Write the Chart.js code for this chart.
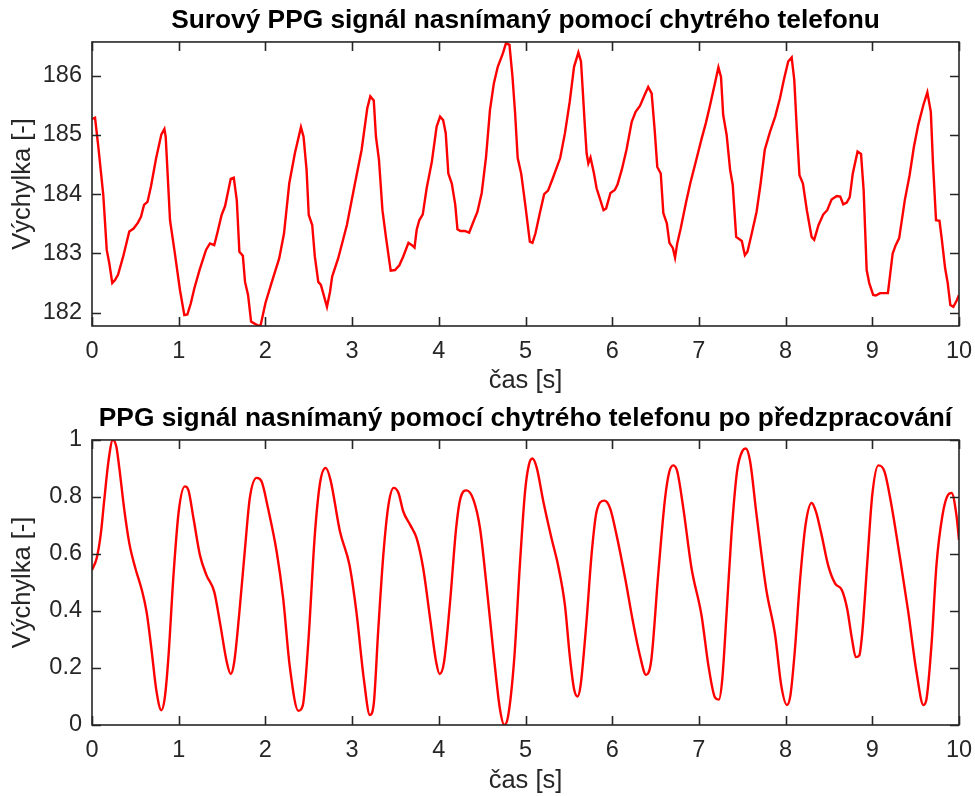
<!DOCTYPE html>
<html><head><meta charset="utf-8">
<script src="https://cdn.jsdelivr.net/npm/chart.js@4"></script>
<style>
html,body{margin:0;padding:0;background:#fff;overflow:hidden}
.wrap{position:absolute;left:0;width:975px;height:398px}
canvas{display:block}
</style></head><body>
<div class="wrap" style="top:0"><canvas id="c1" width="975" height="398"></canvas></div>
<div class="wrap" style="top:398px"><canvas id="c2" width="975" height="398"></canvas></div>
<script>
// ---- data ----
const rawTime = [0,0.035,0.073,0.13,0.17,0.20,0.234,0.265,0.30,0.36,0.43,0.48,0.53,0.565,0.60,0.64,0.68,0.74,0.80,0.835,0.85,0.90,0.95,1.015,1.065,1.10,1.14,1.18,1.24,1.315,1.36,1.41,1.445,1.495,1.535,1.60,1.635,1.67,1.70,1.74,1.765,1.80,1.835,1.87,1.92,1.945,2.00,2.07,2.16,2.215,2.275,2.34,2.41,2.44,2.475,2.50,2.54,2.57,2.61,2.64,2.71,2.745,2.77,2.84,2.94,3.03,3.11,3.175,3.21,3.25,3.275,3.31,3.35,3.39,3.445,3.495,3.545,3.59,3.65,3.69,3.72,3.745,3.775,3.815,3.86,3.92,3.975,4.015,4.05,4.08,4.11,4.15,4.19,4.215,4.25,4.30,4.35,4.40,4.445,4.495,4.545,4.59,4.635,4.68,4.74,4.775,4.815,4.85,4.88,4.91,4.95,4.995,5.05,5.08,5.115,5.165,5.215,5.26,5.315,5.40,5.455,5.51,5.56,5.61,5.64,5.66,5.685,5.705,5.725,5.75,5.79,5.82,5.90,5.93,5.98,6.03,6.06,6.11,6.165,6.225,6.27,6.32,6.37,6.415,6.455,6.49,6.52,6.56,6.59,6.63,6.66,6.70,6.725,6.75,6.79,6.85,6.90,6.975,7.03,7.08,7.13,7.18,7.225,7.255,7.28,7.32,7.36,7.39,7.43,7.495,7.53,7.56,7.61,7.665,7.71,7.76,7.82,7.88,7.935,7.98,8.03,8.07,8.10,8.13,8.16,8.20,8.245,8.30,8.33,8.38,8.435,8.48,8.53,8.59,8.63,8.665,8.705,8.74,8.775,8.83,8.87,8.90,8.935,8.965,9.01,9.04,9.09,9.18,9.235,9.27,9.31,9.375,9.43,9.48,9.53,9.59,9.635,9.675,9.70,9.735,9.775,9.80,9.84,9.87,9.90,9.935,9.975,10.0];
const rawValue = [185.27,185.29,184.80,183.99,183.06,182.83,182.50,182.55,182.64,182.95,183.37,183.42,183.52,183.62,183.82,183.87,184.13,184.61,185.01,185.10,184.97,183.56,183.06,182.38,181.96,181.97,182.16,182.41,182.72,183.06,183.17,183.14,183.34,183.65,183.80,184.26,184.28,183.90,183.03,182.96,182.52,182.30,181.85,181.82,181.78,181.79,182.16,182.50,182.92,183.34,184.18,184.69,185.13,184.97,184.41,183.65,183.48,182.95,182.52,182.47,182.10,182.35,182.61,182.92,183.48,184.16,184.75,185.45,185.65,185.58,184.97,184.58,183.73,183.28,182.71,182.72,182.80,182.95,183.18,183.14,183.10,183.40,183.56,183.66,184.10,184.55,185.14,185.31,185.25,185.03,184.35,184.18,183.82,183.41,183.38,183.38,183.35,183.54,183.70,184.02,184.63,185.42,185.87,186.15,186.38,186.55,186.52,185.98,185.37,184.61,184.35,183.85,183.20,183.18,183.34,183.68,184.00,184.06,184.27,184.61,185.03,185.56,186.15,186.39,186.24,185.76,185.14,184.69,184.52,184.62,184.35,184.10,183.73,183.76,184.02,184.07,184.16,184.41,184.75,185.22,185.39,185.49,185.66,185.81,185.70,185.08,184.46,184.35,183.68,183.51,183.18,183.09,182.93,183.17,183.42,183.85,184.18,184.61,184.93,185.20,185.51,185.84,186.14,185.98,185.34,185.00,184.41,184.16,183.28,183.21,182.97,183.03,183.34,183.70,184.16,184.75,185.05,185.31,185.62,185.93,186.24,186.31,185.93,185.08,184.32,184.18,183.73,183.28,183.23,183.48,183.66,183.73,183.91,183.97,183.96,183.83,183.86,183.95,184.35,184.72,184.68,184.07,182.72,182.50,182.30,182.29,182.33,182.33,183.00,183.14,183.26,183.90,184.32,184.80,185.17,185.51,185.72,185.39,184.52,183.56,183.55,183.26,182.75,182.50,182.13,182.10,182.21,182.30];

const procTime = [0,0.054,0.10,0.14,0.19,0.24,0.28,0.315,0.37,0.43,0.50,0.57,0.63,0.69,0.74,0.80,0.84,0.88,0.94,1.0,1.07,1.11,1.17,1.245,1.32,1.41,1.475,1.555,1.60,1.64,1.70,1.765,1.82,1.90,1.955,2.03,2.13,2.205,2.28,2.38,2.43,2.495,2.57,2.63,2.695,2.75,2.86,2.97,3.05,3.135,3.205,3.25,3.30,3.36,3.42,3.48,3.535,3.59,3.67,3.745,3.82,3.90,3.97,4.01,4.06,4.13,4.20,4.25,4.32,4.40,4.475,4.55,4.63,4.705,4.755,4.80,4.87,4.935,4.995,5.04,5.08,5.13,5.205,5.30,5.375,5.455,5.51,5.56,5.60,5.635,5.70,5.765,5.82,5.91,5.975,6.05,6.15,6.24,6.32,6.39,6.45,6.53,6.61,6.66,6.705,6.75,6.82,6.915,7.03,7.11,7.185,7.23,7.27,7.32,7.375,7.44,7.505,7.54,7.59,7.665,7.775,7.88,7.95,8.015,8.055,8.105,8.165,8.23,8.30,8.35,8.415,8.49,8.57,8.65,8.71,8.765,8.81,8.85,8.885,8.94,9.0,9.07,9.14,9.22,9.32,9.415,9.51,9.59,9.625,9.685,9.74,9.81,9.875,9.915,9.97,10.0];
const procValue = [0.544,0.585,0.667,0.785,0.926,1.0,0.978,0.902,0.761,0.638,0.55,0.479,0.396,0.255,0.126,0.052,0.097,0.232,0.526,0.749,0.837,0.826,0.726,0.596,0.526,0.467,0.361,0.22,0.179,0.22,0.396,0.62,0.796,0.867,0.855,0.761,0.608,0.444,0.208,0.05,0.067,0.291,0.667,0.849,0.902,0.861,0.679,0.561,0.396,0.162,0.035,0.075,0.326,0.596,0.773,0.832,0.814,0.749,0.702,0.655,0.55,0.373,0.22,0.179,0.22,0.432,0.691,0.796,0.823,0.79,0.691,0.491,0.255,0.056,0.0,0.032,0.232,0.561,0.82,0.914,0.935,0.902,0.785,0.655,0.561,0.42,0.244,0.126,0.10,0.138,0.35,0.608,0.749,0.787,0.761,0.667,0.514,0.361,0.244,0.176,0.226,0.526,0.796,0.89,0.911,0.89,0.761,0.55,0.385,0.208,0.097,0.089,0.162,0.396,0.667,0.89,0.963,0.97,0.926,0.737,0.479,0.314,0.138,0.07,0.103,0.255,0.502,0.702,0.779,0.749,0.667,0.561,0.497,0.473,0.408,0.303,0.238,0.244,0.326,0.561,0.808,0.911,0.89,0.773,0.585,0.396,0.185,0.07,0.091,0.291,0.561,0.737,0.808,0.814,0.737,0.649];

const xTickValues = [0,1,2,3,4,5,6,7,8,9,10];
const rawYTicks = [182,183,184,185,186];
const procYTicks = [0,0.2,0.4,0.6,0.8,1];
const rawYRange = [181.776, 186.569];
const procYRange = [0, 1];
const titleRaw = 'Surový PPG signál nasnímaný pomocí chytrého telefonu';
const titleProc = 'PPG signál nasnímaný pomocí chytrého telefonu po předzpracování';
const xLabel = 'čas [s]';
const yLabel = 'Výchylka [-]';

// ---- styling / drawing ----
const AX = '#262626';
const FONT = "'Liberation Sans', Arial, Helvetica, sans-serif";

const boxPlugin = {
  id: 'matlabBox',
  afterLayout(chart) {
    if (chart.titleBlock) {
      chart.titleBlock.left = chart.chartArea.left;
      chart.titleBlock.right = chart.chartArea.right;
    }
  },
  afterDatasetsDraw(chart) {
    const {ctx, chartArea: {left, right, top, bottom}} = chart;
    const xs = chart.scales.x, ys = chart.scales.y;
    const L = 9;
    ctx.save();
    ctx.strokeStyle = AX;
    ctx.lineWidth = 1.6;
    ctx.beginPath();
    xs.ticks.forEach(t => {
      const p = Math.round(xs.getPixelForValue(t.value)) + 0.5;
      ctx.moveTo(p, bottom); ctx.lineTo(p, bottom - L);
      ctx.moveTo(p, top); ctx.lineTo(p, top + L);
    });
    ys.ticks.forEach(t => {
      const p = Math.round(ys.getPixelForValue(t.value)) + 0.5;
      ctx.moveTo(left, p); ctx.lineTo(left + L, p);
      ctx.moveTo(right, p); ctx.lineTo(right - L, p);
    });
    ctx.stroke();
    ctx.strokeRect(left, top, right - left, bottom - top);
    ctx.restore();
  }
};

function makeChart(id, times, values, yTicks, yRange, title, xAxisHeight, xTitlePad, smooth) {
  const pts = times.map((t, i) => ({x: t, y: values[i]}));
  return new Chart(document.getElementById(id), {
    type: 'line',
    data: {datasets: [{
      data: pts,
      borderColor: '#ff0000',
      borderWidth: 2.4,
      pointRadius: 0,
      fill: false,
      tension: smooth ? 0.4 : 0,
      cubicInterpolationMode: smooth ? 'monotone' : 'default'
    }]},
    options: {
      responsive: false,
      animation: false,
      devicePixelRatio: 1,
      layout: {padding: {left: 0, right: 16, top: 0, bottom: 0}},
      plugins: {
        legend: {display: false},
        tooltip: {enabled: false},
        title: {
          display: true,
          text: title,
          color: '#000',
          font: {family: FONT, size: 26.3, weight: 'bold', lineHeight: 1.2},
          padding: {top: 5, bottom: 5.4}
        }
      },
      scales: {
        x: {
          type: 'linear',
          min: 0, max: 10,
          grid: {display: false, drawTicks: false},
          border: {display: false},
          afterBuildTicks: s => { s.ticks = xTickValues.map(v => ({value: v})); },
          afterFit: s => { s.height = xAxisHeight; s.paddingLeft = 0; s.paddingRight = 0; },
          ticks: {color: AX, font: {family: FONT, size: 23.5}, padding: 11, maxRotation: 0,
                  callback: v => String(v)},
          title: {display: true, text: xLabel, color: AX, font: {family: FONT, size: 25.5, lineHeight: 1.2},
                  padding: {top: 0, bottom: xTitlePad}}
        },
        y: {
          type: 'linear',
          min: yRange[0], max: yRange[1],
          grid: {display: false, drawTicks: false},
          border: {display: false},
          afterBuildTicks: s => { s.ticks = yTicks.map(v => ({value: v})); },
          afterFit: s => { s.width = 92; s.paddingTop = 0; s.paddingBottom = 0; },
          ticks: {color: AX, font: {family: FONT, size: 23.5}, padding: 10,
                  callback: v => String(Math.round(v * 10) / 10)},
          title: {display: true, text: yLabel, color: AX, font: {family: FONT, size: 25.5, lineHeight: 1.2},
                  padding: {top: 8, bottom: 0}}
        }
      }
    },
    plugins: [boxPlugin]
  });
}

makeChart('c1', rawTime, rawValue, rawYTicks, rawYRange, titleRaw, 72, 1.5, false);
makeChart('c2', procTime, procValue, procYTicks, procYRange, titleProc, 71, 0, true);
</script>
</body></html>
